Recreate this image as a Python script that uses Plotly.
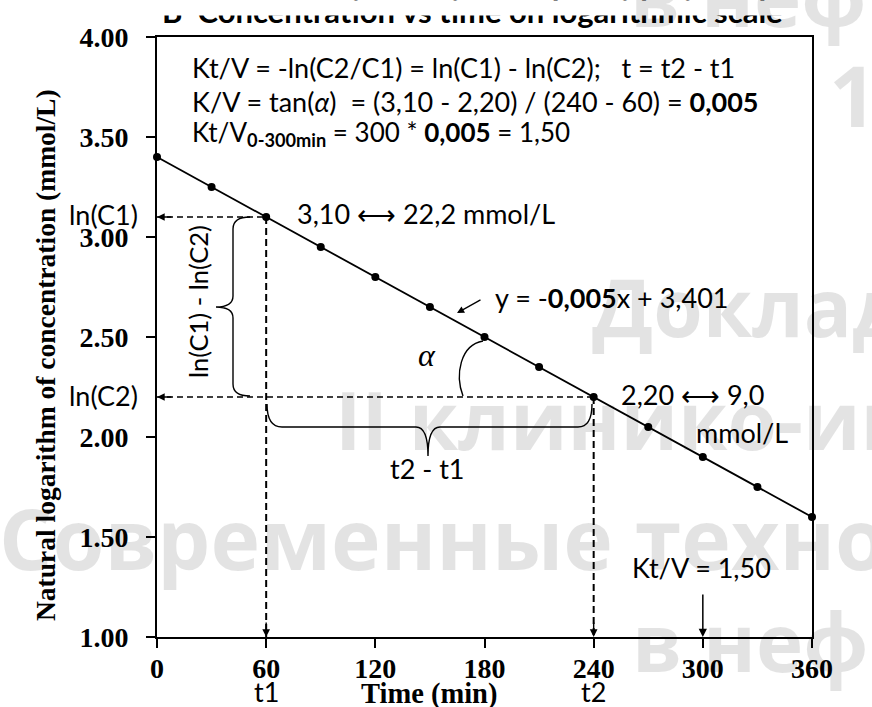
import plotly.graph_objects as go

# ---------------- data ----------------
time_min = [0, 30, 60, 90, 120, 150, 180, 210, 240, 270, 300, 330, 360]
ln_conc = [3.40, 3.25, 3.10, 2.95, 2.80, 2.65, 2.50, 2.35, 2.20, 2.05, 1.90, 1.75, 1.60]
x_tickvals = [0, 60, 120, 180, 240, 300, 360]
x_ticktext = ["0", "60", "120", "180", "240", "300", "360"]
y_tickvals = [1.0, 1.5, 2.0, 2.5, 3.0, 3.5, 4.0]
y_ticktext = ["1.00", "1.50", "2.00", "2.50", "3.00", "3.50", "4.00"]
t1_index = 2      # t1 = 60 min
t2_index = 8      # t2 = 240 min
ktv_time = 300
x_range = [0, 360]
y_range = [1.0, 4.0]

# ---------------- geometry helpers ----------------
W, H = 872, 707
PL, PR, PT, PB = 157, 812, 37, 637


def dx(px):
    return x_range[0] + (px - PL) / (PR - PL) * (x_range[1] - x_range[0])


def dy(py):
    return y_range[1] - (py - PT) / (PB - PT) * (y_range[1] - y_range[0])


def fx(px):
    return (px - PL) / (PR - PL)


def fy(py):
    return (PB - py) / (PB - PT)


def path_px(cmds):
    out = []
    for c in cmds:
        letter, pts = c[0], c[1:]
        out.append(letter + " " + " ".join(f"{dx(p[0]):.3f},{dy(p[1]):.4f}" for p in pts))
    return " ".join(out)


SERIF = "Liberation Serif, Times New Roman, serif"
SANS = "Lato, Calibri, sans-serif"
WM = "Open Sans, sans-serif"
FS = 27

t1, c1 = time_min[t1_index], ln_conc[t1_index]
t2, c2 = time_min[t2_index], ln_conc[t2_index]

fig = go.Figure()
fig.add_trace(go.Scatter(
    x=time_min, y=ln_conc, mode="lines+markers",
    line=dict(color="black", width=1.8),
    marker=dict(color="black", size=8),
    cliponaxis=False, hoverinfo="skip"))

annotations = []


def txt(text, x, y, size, xref="paper", yref="paper", xanchor="center",
        yanchor="middle", family=SANS, angle=0, color="black",
        weight="normal", style="normal"):
    annotations.append(dict(
        text=text, x=x, y=y, xref=xref, yref=yref, xanchor=xanchor,
        yanchor=yanchor, showarrow=False, textangle=angle,
        font=dict(family=family, size=size, color=color, weight=weight, style=style)))


# title (its upper part is hidden, as in the source picture)
txt("B\u00a0\u00a0Concentration vs time on logarithmic scale", fx(160), fy(11), 31,
    xanchor="left", weight="bold")
annotations.append(dict(text=" ", x=fx(145), y=fy(0), xref="paper", yref="paper",
                        xanchor="left", yanchor="top", width=680, height=14,
                        bgcolor="white", borderpad=0, showarrow=False,
                        font=dict(size=2, color="white")))

# watermark (background text of the slide)
wm_col = "rgba(0,0,0,0.11)"
for s, lx, base, size in [
    ("в нефрологии", 628, 27, 80),
    ("1", 827, 127, 84),
    ("Доклад", 590, 337, 80),
    ("II клинико-инструментальная", 333, 450, 80),
    ("Современные технологии", -3, 570, 84),
    ("в нефрологии", 630, 672, 80),
]:
    txt(s, fx(lx), fy(base - 0.39 * size), size, xanchor="left", family=WM,
        color=wm_col, weight="bold")

# formula lines
txt("Kt/V = -ln(C2/C1) = ln(C1) - ln(C2);\u00a0\u00a0\u00a0t = t2 - t1",
    fx(190), fy(68), FS, xanchor="left")
txt("K/V = tan(<i>α</i>)\u00a0\u00a0= (3,10 - 2,20) / (240 - 60) = <b>0,005</b>",
    fx(190), fy(101), FS, xanchor="left")
txt("Kt/V<sub><b>0-300min</b></sub> = 300 * <b>0,005</b> = 1,50",
    fx(190), fy(134), 26, xanchor="left")

# point labels
txt("3,10 \u27F7 22,2 mmol/L", dx(295), dy(213), FS, xref="x", yref="y", xanchor="left")
txt("y = -<b>0,005</b>x + 3,401", dx(493), dy(297), FS, xref="x", yref="y", xanchor="left")
txt("2,20 \u27F7 9,0", dx(619), dy(394), FS, xref="x", yref="y", xanchor="left")
txt("mmol/L", dx(742), dy(432), FS, xref="x", yref="y")
txt("Kt/V = 1,50", dx(701), dy(567), FS, xref="x", yref="y")
txt("α", dx(427), dy(355), 32, xref="x", yref="y", family=SERIF, style="italic")
txt("t2 - t1", dx(427), dy(468), FS, xref="x", yref="y")
txt("ln(C1) - ln(C2)", dx(198), dy(302), 25.5, xref="x", yref="y", angle=-90)

# left labels
txt("ln(C1)", fx(140), fy(215), FS, xanchor="right")
txt("ln(C2)", fx(140), fy(395), FS, xanchor="right")

# below x axis
txt("t1", t1, fy(692), FS, xref="x")
txt("t2", t2, fy(692), FS, xref="x")
txt("Time (min)", dx(429), fy(694), 28.5, xref="x", family=SERIF, weight="bold")

# y axis title
txt("Natural logarithm of concentration (mmol/L)", fx(45), fy(355), 27.5,
    family=SERIF, weight="bold", angle=-90)

# arrowheads of the guide lines
for (x, y, ax, ay) in [(0, c1, 16, 0), (0, c2, 16, 0), (t1, y_range[0], 0, -16),
                       (t2, y_range[0], 0, -16)]:
    annotations.append(dict(x=x, y=y, xref="x", yref="y", ax=ax, ay=ay, text="",
                            showarrow=True, arrowhead=2, arrowsize=1.1,
                            arrowwidth=1.4, arrowcolor="black", standoff=0))

# Kt/V arrow at 300 min
annotations.append(dict(x=ktv_time, y=y_range[0], xref="x", yref="y",
                        axref="x", ayref="y", ax=ktv_time, ay=dy(593), text="",
                        showarrow=True, arrowhead=2, arrowsize=1.1, arrowwidth=1.5,
                        arrowcolor="black", standoff=0))
# arrow to the regression line
annotations.append(dict(x=dx(457), y=dy(313), xref="x", yref="y",
                        axref="x", ayref="y", ax=dx(482), ay=dy(299), text="",
                        showarrow=True, arrowhead=2, arrowsize=1.1, arrowwidth=1.3,
                        arrowcolor="black", standoff=0))

shapes = []
# dashed guide lines
shapes.append(dict(type="line", xref="x", yref="y", x0=x_range[0], x1=t1, y0=c1, y1=c1,
                   line=dict(color="black", width=1.3, dash="6px,4px")))
shapes.append(dict(type="line", xref="x", yref="y", x0=x_range[0], x1=t2, y0=c2, y1=c2,
                   line=dict(color="black", width=1.3, dash="6px,4px")))
shapes.append(dict(type="line", xref="x", yref="y", x0=t1, x1=t1, y0=c1, y1=y_range[0],
                   line=dict(color="black", width=2, dash="7px,4px")))
shapes.append(dict(type="line", xref="x", yref="y", x0=t2, x1=t2, y0=c2, y1=y_range[0],
                   line=dict(color="black", width=2, dash="7px,4px")))

# vertical brace
shapes.append(dict(type="path", xref="x", yref="y", line=dict(color="black", width=1.4),
                   path=path_px([("M", (250, 217)), ("Q", (233, 217), (233, 229)),
                                 ("L", (233, 296)), ("Q", (233, 307), (216, 307)),
                                 ("Q", (233, 307), (233, 318)), ("L", (233, 384)),
                                 ("Q", (233, 396), (250, 396))])))
# horizontal brace
shapes.append(dict(type="path", xref="x", yref="y", line=dict(color="black", width=1.4),
                   path=path_px([("M", (267, 404)), ("Q", (267, 427), (282, 427)),
                                 ("L", (416, 427)), ("Q", (428, 427), (428, 456)),
                                 ("Q", (428, 427), (440, 427)), ("L", (578, 427)),
                                 ("Q", (592, 427), (592, 404))])))
# angle arc
shapes.append(dict(type="path", xref="x", yref="y", line=dict(color="black", width=1.4),
                   path=path_px([("M", (483, 341)), ("C", (460, 345), (455, 375), (463, 396))])))

axis_common = dict(showline=True, linewidth=2, linecolor="black", mirror=True,
                   ticks="outside", ticklen=9, tickwidth=2, tickcolor="black",
                   showgrid=False, zeroline=False,
                   tickfont=dict(family=SERIF, size=28, color="black", weight="bold"))

fig.update_xaxes(range=x_range, tickvals=x_tickvals, ticktext=x_ticktext,
                 ticklabelstandoff=-4, **axis_common)
fig.update_yaxes(range=y_range, tickvals=y_tickvals, ticktext=y_ticktext,
                 ticklabelstandoff=12, **axis_common)

fig.update_layout(width=W, height=H,
                  margin=dict(l=PL, r=W - PR, t=PT, b=H - PB, pad=0),
                  paper_bgcolor="white", plot_bgcolor="white", showlegend=False,
                  annotations=annotations, shapes=shapes)

fig.write_html("out.html")
